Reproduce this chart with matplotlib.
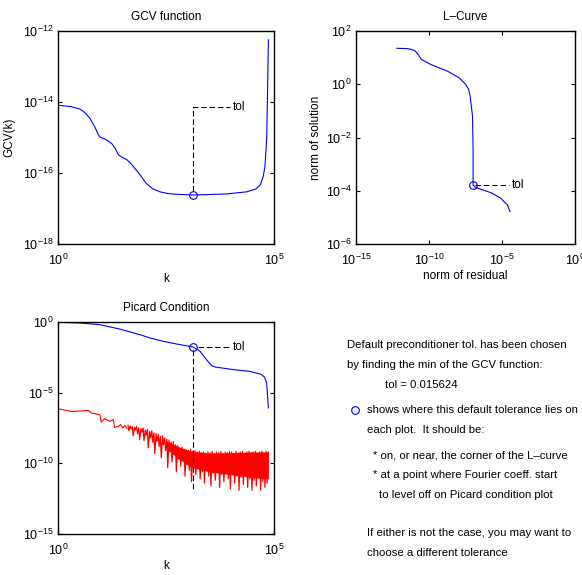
import numpy as np
import matplotlib
matplotlib.use('Agg')
import matplotlib.pyplot as plt
from matplotlib.lines import Line2D
from matplotlib.ticker import FixedLocator, NullLocator, LogFormatterSciNotation

plt.rcParams['font.family'] = ['Liberation Sans', 'DejaVu Sans']
plt.rcParams['mathtext.fontset'] = 'custom'
plt.rcParams['mathtext.rm'] = 'Liberation Sans'
plt.rcParams['mathtext.it'] = 'Liberation Sans:italic'
plt.rcParams['mathtext.bf'] = 'Liberation Sans:bold'

# ---- data (log10 values) ----
gcv_logk = [0, 0.30, 0.51, 0.62, 0.74, 0.85, 0.96, 1.13, 1.25, 1.32, 1.40, 1.50, 1.59, 1.70,
            1.78, 1.90, 2.04, 2.20, 2.36, 2.55, 2.75, 3.13, 3.90, 4.37, 4.58, 4.68, 4.75,
            4.79, 4.83, 4.85, 4.87]
gcv_logv = [-14.09, -14.13, -14.20, -14.30, -14.46, -14.70, -14.98, -15.07, -15.18, -15.30,
            -15.49, -15.57, -15.62, -15.75, -15.87, -16.05, -16.29, -16.45, -16.53, -16.58,
            -16.60, -16.62, -16.59, -16.53, -16.45, -16.34, -16.10, -15.82, -15.07, -13.8,
            -12.25]

lcurve_logres = [-12.2, -11.5, -11.24, -11.0, -10.83, -10.6, -10.51, -9.87, -8.73, -7.93,
                 -7.48, -7.28, -7.18, -7.02, -6.98, -6.98, -6.98, -6.85, -6.68, -5.77, -5.08,
                 -4.63, -4.45]
lcurve_logsol = [1.35, 1.34, 1.31, 1.27, 1.18, 1.0, 0.93, 0.74, 0.49, 0.24,
                 -0.01, -0.20, -0.45, -1.20, -2.46, -3.59, -3.78, -3.86, -3.90, -4.07, -4.28,
                 -4.53, -4.78]

picard_logk = [0, 0.51, 0.97, 1.43, 1.90, 2.13, 2.44, 2.75, 3.13, 3.29, 3.44, 3.56, 3.63,
               4.06, 4.44, 4.70, 4.78, 4.83, 4.87]
picard_logv = [-0.02, -0.07, -0.19, -0.50, -0.90, -1.13, -1.37, -1.56, -1.77, -2.08, -2.67,
               -3.10, -3.18, -3.37, -3.49, -3.70, -3.90, -4.3, -6.08]

red_smooth_logk = [0, 0.32, 0.70, 0.78, 0.97, 1.00, 1.08, 1.20, 1.28, 1.31, 1.40, 1.45,
                   1.50, 1.55, 1.60]
red_smooth_logv = [-6.14, -6.33, -6.26, -6.44, -6.56, -7.08, -6.84, -7.03, -6.91, -7.46,
                   -7.39, -7.25, -7.50, -7.32, -7.55]

red_band_logk = [2.50, 2.80, 3.10, 3.50, 4.00, 4.50, 4.87]
red_band_hi = [-8.4, -8.85, -9.15, -9.27, -9.25, -9.2, -9.2]
red_band_lo = [-8.9, -9.7, -10.3, -10.6, -10.8, -11.0, -11.1]

red_noise_logk = [1.62, 1.64, 1.67, 1.69, 1.72, 1.74, 1.77, 1.79, 1.82, 1.84, 1.87, 1.89,
                  1.92, 1.94, 1.97, 1.99, 2.02, 2.04, 2.07, 2.09, 2.12, 2.14, 2.17, 2.19,
                  2.22, 2.24, 2.27, 2.29, 2.32, 2.34, 2.37, 2.39, 2.42, 2.44, 2.47, 2.49,
                  2.52, 2.54, 2.57, 2.59, 2.62, 2.64, 2.67, 2.69, 2.72, 2.74, 2.77, 2.79,
                  2.82, 2.84, 2.87, 2.89, 2.92, 2.94, 2.97, 2.99, 3.02, 3.04, 3.07, 3.09,
                  3.12, 3.14, 3.17, 3.19, 3.22, 3.24, 3.27, 3.29, 3.32, 3.34, 3.37, 3.39,
                  3.42, 3.44, 3.47, 3.49, 3.52, 3.54, 3.57, 3.59, 3.62, 3.64, 3.67, 3.69,
                  3.72, 3.74, 3.77, 3.79, 3.82, 3.84, 3.87, 3.89, 3.92, 3.94, 3.97, 3.99,
                  4.02, 4.04, 4.07, 4.09, 4.12, 4.14, 4.17, 4.19, 4.22, 4.24, 4.27, 4.29,
                  4.32, 4.34, 4.37, 4.39, 4.42, 4.44, 4.47, 4.49, 4.52, 4.54, 4.57, 4.59,
                  4.62, 4.64, 4.67, 4.69, 4.72, 4.74, 4.77, 4.79, 4.82, 4.84, 4.87]
red_noise_logv = [-7.30, -7.70, -7.35, -7.55, -7.40, -8.05, -7.45, -7.65, -7.40, -7.90, -7.50, -8.30,
                  -7.55, -7.80, -7.50, -8.40, -7.65, -8.00, -7.60, -8.90, -7.75, -8.20, -7.70, -8.50,
                  -7.85, -9.30, -7.90, -8.45, -7.95, -8.80, -8.10, -9.60, -8.05, -8.70, -8.20, -9.10,
                  -8.30, -10.3, -8.35, -9.20, -8.50, -9.90, -8.45, -9.40, -8.70, -10.6, -8.75, -9.70,
                  -8.90, -10.2, -8.85, -9.80, -9.00, -10.9, -9.05, -10.1, -9.10, -10.5, -9.00, -11.3,
                  -9.15, -10.4, -9.10, -10.8, -9.20, -10.3, -9.15, -11.1, -9.25, -10.6, -9.20, -11.4,
                  -9.30, -10.5, -9.20, -10.9, -9.25, -11.6, -9.15, -10.7, -9.30, -11.2, -9.20, -10.6,
                  -9.25, -11.7, -9.15, -10.8, -9.30, -11.3, -9.20, -10.7, -9.25, -11.1, -9.15, -11.8,
                  -9.20, -10.8, -9.30, -11.4, -9.15, -10.9, -9.25, -11.9, -9.20, -11.0, -9.15, -11.5,
                  -9.30, -10.8, -9.20, -11.7, -9.15, -11.1, -9.25, -11.9, -9.20, -11.2, -9.15, -11.6,
                  -9.30, -11.0, -9.20, -11.9, -9.15, -11.3, -9.25, -11.7, -9.15, -11.4, -9.20]

tol_logk = 3.13
gcv_tol_logv = -16.62
lcurve_tol = (-6.98, -3.78)
picard_tol_logv = -1.77

info_lines = [
    "Default preconditioner tol. has been chosen",
    "by finding the min of the GCV function:",
    "tol = 0.015624",
    "shows where this default tolerance lies on",
    "each plot.  It should be:",
    "* on, or near, the corner of the L\u2013curve",
    "* at a point where Fourier coeff. start",
    "to level off on Picard condition plot",
    "If either is not the case, you may want to",
    "choose a different tolerance",
]


def p(a):
    return 10.0 ** np.asarray(a, dtype=float)


W, H = 582, 575
fig = plt.figure(figsize=(W / 100, H / 100), dpi=100)


def px_axes(l, t, r, b):
    return fig.add_axes([l / W, 1 - b / H, (r - l) / W, (b - t) / H])


def style(ax, xt, yt, xlim, ylim):
    ax.set_xscale('log')
    ax.set_yscale('log')
    ax.set_xlim(*xlim)
    ax.set_ylim(*ylim)
    ax.xaxis.set_major_locator(FixedLocator(xt))
    ax.yaxis.set_major_locator(FixedLocator(yt))
    ax.xaxis.set_minor_locator(NullLocator())
    ax.yaxis.set_minor_locator(NullLocator())
    ax.xaxis.set_major_formatter(LogFormatterSciNotation())
    ax.yaxis.set_major_formatter(LogFormatterSciNotation())
    ax.tick_params(direction='in', length=3, width=0.8, top=True, right=True,
                   labelsize=9)
    ax.tick_params(axis='y', pad=3)
    ax.tick_params(axis='x', pad=6)
    for s in ax.spines.values():
        s.set_linewidth(1.0)


dash = dict(color='k', lw=0.8, dashes=(5, 2.5))
mk = dict(marker='o', ms=5.5, mfc='none', mec='blue', mew=0.8, ls='none')

# GCV function
ax1 = px_axes(58, 31, 274, 244)
ax1.plot(p(gcv_logk), p(gcv_logv), color='blue', lw=0.8)
ax1.plot(p([tol_logk, tol_logk, 3.98]), p([gcv_tol_logv + 0.12, -14.13, -14.13]), **dash)
ax1.plot(p([tol_logk]), p([gcv_tol_logv]), **mk)
ax1.text(p(4.05), p(-14.13), 'tol', fontsize=8.5, va='center')
style(ax1, [1, 1e5], [1e-18, 1e-16, 1e-14, 1e-12], (1, 1e5), (1e-18, 1e-12))
ax1.set_title('GCV function', fontsize=8.5, pad=8)
ax1.set_xlabel('k', fontsize=8.5, labelpad=4)
ax1.set_ylabel('GCV(k)', fontsize=8.5, labelpad=6)

# L-curve
ax2 = px_axes(356, 31, 575, 244)
ax2.plot(p(lcurve_logres), p(lcurve_logsol), color='blue', lw=0.8)
ax2.plot(p([lcurve_tol[0] + 0.15, -4.51]), p([lcurve_tol[1], lcurve_tol[1]]), **dash)
ax2.plot(p([lcurve_tol[0]]), p([lcurve_tol[1]]), **mk)
ax2.text(p(-4.3), p(lcurve_tol[1]), 'tol', fontsize=8.5, va='center')
style(ax2, [1e-15, 1e-10, 1e-5, 1], [1e-6, 1e-4, 1e-2, 1, 1e2], (1e-15, 1), (1e-6, 1e2))
ax2.set_title('L\u2013Curve', fontsize=8.5, pad=8)
ax2.set_xlabel('norm of residual', fontsize=8.5, labelpad=2)
ax2.set_ylabel('norm of solution', fontsize=8.5, labelpad=3)

# Picard condition
ax3 = px_axes(58, 322, 274, 534)
ax3.plot(p(red_smooth_logk), p(red_smooth_logv), color='red', lw=0.8)
ax3.fill_between(p(red_band_logk), p(red_band_lo), p(red_band_hi), color='red', lw=0)
ax3.plot(p(red_noise_logk), p(red_noise_logv), color='red', lw=0.9)
ax3.plot(p(picard_logk), p(picard_logv), color='blue', lw=0.8)
ax3.plot(p([tol_logk, tol_logk]), p([picard_tol_logv - 0.2, -11.86]), **dash)
ax3.plot(p([tol_logk + 0.1, 3.98]), p([picard_tol_logv, picard_tol_logv]), **dash)
ax3.plot(p([tol_logk]), p([picard_tol_logv]), **mk)
ax3.text(p(4.05), p(picard_tol_logv), 'tol', fontsize=8.5, va='center')
style(ax3, [1, 1e5], [1e-15, 1e-10, 1e-5, 1], (1, 1e5), (1e-15, 1))
ax3.set_title('Picard Condition', fontsize=8.5, pad=8)
ax3.set_xlabel('k', fontsize=8.5, labelpad=2)

# explanatory text
text_pos = [(347, 345), (347, 365), (385, 385), (367, 410), (367, 430),
            (373, 455), (373, 475), (379, 495), (367, 533), (367, 553)]
for (x, y), s in zip(text_pos, info_lines):
    fig.text(x / W, 1 - y / H, s, fontsize=8.2, va='center', ha='left')
fig.add_artist(Line2D([355 / W], [1 - 410 / H], transform=fig.transFigure, **mk))

fig.savefig('out.png', dpi=100)
